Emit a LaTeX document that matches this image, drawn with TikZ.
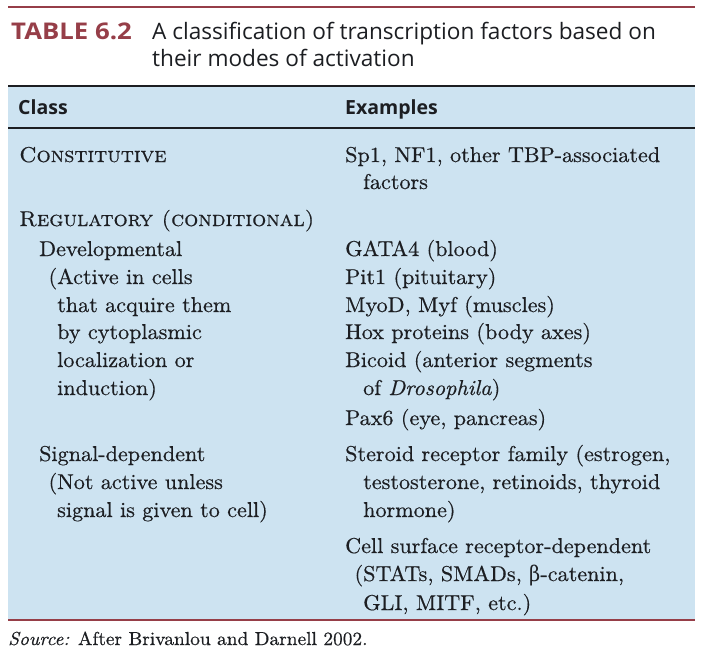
\documentclass[tikz,border=0pt]{standalone}
\usepackage{fontspec}
\setmainfont{lmroman10-regular.otf}[
  ItalicFont=lmroman10-italic.otf,
  SmallCapsFont=lmromancaps10-regular.otf,
  FakeStretch=1.03, FakeBold=0.5,
  ItalicFeatures={FakeStretch=1.03, FakeBold=0.5},
  SmallCapsFeatures={FakeStretch=1.03, FakeBold=0.5}]
\newfontfamily\hdfont{Open Sans}
\newfontfamily\grk{DejaVu Serif}[FakeStretch=0.9]
\definecolor{maroon}{RGB}{150,62,72}
\definecolor{tblue}{RGB}{205,227,241}
\definecolor{ink}{RGB}{28,30,34}
\begin{document}
\begin{tikzpicture}[x=1pt,y=-1pt,
  body/.style={anchor=base west,inner sep=0pt,text=ink,font=\fontsize{21.5}{27.8}\selectfont},
  head/.style={anchor=base west,inner sep=0pt,text=ink,font=\hdfont\bfseries\fontsize{19.5}{24}\selectfont},
  ttl/.style={anchor=base west,inner sep=0pt,text=ink,font=\hdfont\fontsize{22.6}{27}\selectfont},
  rulemar/.style={draw=maroon,line width=2.5pt},
  ruledark/.style={draw=ink,line width=2.5pt}]
\useasboundingbox (0,0) rectangle (705,657);
\fill[white] (0,0) rectangle (705,657);
\fill[tblue] (8,87) rectangle (695,619);
\draw[rulemar] (8,7) -- (695,7);
\draw[ruledark] (8,86) -- (695,86);
\draw[draw=ink,line width=1.6pt] (8,128) -- (695,128);
\draw[rulemar] (8,620) -- (695,620);
% title
\node[anchor=base west,inner sep=0pt,text=maroon,font=\hdfont\bfseries\fontsize{23}{27}\selectfont] (tnum) at (11,39) {\scalebox{1.12}[1]{TABLE 6.2}};
\node[ttl] (t1) at (152,39) {A classification of transcription factors based on};
\node[ttl] (t2) at (152,66) {their modes of activation};
% header
\node[head] (hc) at (18,114) {Class};
\node[head] (he) at (345,114) {Examples};
% left column
\node[body] (l1) at (19,162) {\textsc{Constitutive}};
\node[body] (l2) at (19,226) {\textsc{Regulatory (conditional)}};
\node[body] (l3) at (39,256) {Developmental};
\node[body] (l4) at (57,284) {\llap{(}Active in cells};
\node[body] (l5) at (57,312) {that acquire them};
\node[body] (l6) at (57,339) {by cytoplasmic};
\node[body] (l7) at (57,367) {localization or};
\node[body] (l8) at (57,395) {induction)};
\node[body] (l9) at (39,461) {Signal-dependent};
\node[body] (l10) at (57,489) {\llap{(}Not active unless};
\node[body] (l11) at (57,517) {signal is given to cell)};
% right column
\node[body] (r1) at (345,162) {Sp1, NF1, other TBP-associated};
\node[body] (r2) at (363,189) {factors};
\node[body] (r3) at (345,256) {GATA4 (blood)};
\node[body] (r4) at (345,284) {Pit1 (pituitary)};
\node[body] (r5) at (345,312) {MyoD, Myf (muscles)};
\node[body] (r6) at (345,339) {Hox proteins (body axes)};
\node[body] (r7) at (345,367) {Bicoid (anterior segments};
\node[body] (r8) at (363,395) {of \textit{Drosophila})};
\node[body] (r9) at (345,425) {Pax6 (eye, pancreas)};
\node[body] (r10) at (345,461) {Steroid receptor family (estrogen,};
\node[body] (r11) at (363,489) {testosterone, retinoids, thyroid};
\node[body] (r12) at (363,517) {hormone)};
\node[body] (r13) at (345,553) {Cell surface receptor-dependent};
\node[body] (r14) at (363,581) {\llap{(}STATs, SMADs, {\grk β}-catenin,};
\node[body] (r15) at (363,610) {GLI, MITF, etc.)};
% source
\node[anchor=base west,inner sep=0pt,text=ink,font=\fontsize{18.8}{24}\selectfont] (src) at (8,645) {\textit{Source:} After Brivanlou and Darnell 2002.};
\end{tikzpicture}
\end{document}
